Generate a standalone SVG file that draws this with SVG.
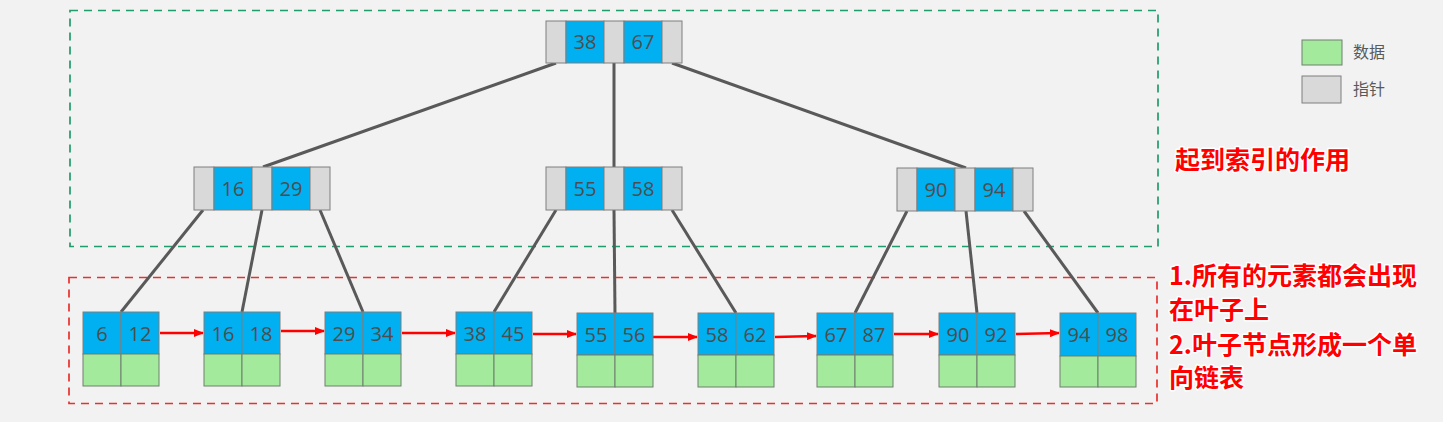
<svg xmlns="http://www.w3.org/2000/svg" width="1443" height="422" viewBox="0 0 1443 422">
<style>
.ptr{fill:#d9d9d9;stroke:#7f7f7f;stroke-width:1}
.key{fill:#00b0f0;stroke:#7f7f7f;stroke-width:1}
.dat{fill:#a4ea9d;stroke:#6f7f6f;stroke-width:1}
.num{font-family:"Open Sans","DejaVu Sans",sans-serif;font-size:20px;fill:#4d4d4d;text-anchor:middle}
.edge{stroke:#595959;stroke-width:3;fill:none}
.link{stroke:#ff0000;stroke-width:2.5;fill:none;marker-end:url(#ah)}
.note{font-family:"Noto Sans CJK SC",sans-serif;font-weight:bold;font-size:25px;fill:#ff0000;stroke:#ffffff;stroke-width:3;paint-order:stroke;stroke-linejoin:round}
.leg{font-family:"Noto Sans CJK SC",sans-serif;font-size:16px;fill:#595959}
</style>
<defs>
<marker id="ah" markerWidth="10" markerHeight="8" refX="9" refY="4" orient="auto" markerUnits="userSpaceOnUse">
<path d="M0,0 L10,4 L0,8 Z" fill="#ff0000"/>
</marker>
</defs>
<rect x="0" y="0" width="1443" height="422" fill="#f2f2f2"/>
<g id="regions">
<rect x="70" y="10.5" width="1088" height="236" fill="none" stroke="#1f9d6c" stroke-width="1.7" stroke-dasharray="8,6"/>
<rect x="69" y="277.5" width="1088" height="126" fill="none" stroke="#e8302c" stroke-width="1.7" stroke-dasharray="8,6"/>
</g>
<g id="connectors">
<line class="edge" x1="556" y1="63" x2="263" y2="167"/>
<line class="edge" x1="614" y1="63" x2="614" y2="167"/>
<line class="edge" x1="672" y1="63" x2="966" y2="168"/>
<line class="edge" x1="203" y1="210" x2="121" y2="312"/>
<line class="edge" x1="262" y1="210" x2="242" y2="312"/>
<line class="edge" x1="320" y1="210" x2="363" y2="312"/>
<line class="edge" x1="556" y1="210" x2="494" y2="312"/>
<line class="edge" x1="614" y1="210" x2="615" y2="313"/>
<line class="edge" x1="672" y1="210" x2="736" y2="313"/>
<line class="edge" x1="907" y1="211" x2="855" y2="313"/>
<line class="edge" x1="966" y1="211" x2="977" y2="313"/>
<line class="edge" x1="1024" y1="211" x2="1098" y2="313"/>
<line class="link" x1="160" y1="333" x2="203" y2="333"/>
<line class="link" x1="281" y1="331" x2="324" y2="331"/>
<line class="link" x1="402" y1="333" x2="455" y2="333"/>
<line class="link" x1="533" y1="334" x2="576" y2="334"/>
<line class="link" x1="653" y1="337" x2="697" y2="337"/>
<line class="link" x1="775" y1="337" x2="816" y2="336"/>
<line class="link" x1="894" y1="334" x2="938" y2="334"/>
<line class="link" x1="1016" y1="334" x2="1059" y2="333"/>
</g>
<g id="root">
<rect class="ptr" x="546" y="21" width="20" height="42"/>
<rect class="key" x="566" y="21" width="38" height="42"/>
<rect class="ptr" x="604" y="21" width="20" height="42"/>
<rect class="key" x="624" y="21" width="38" height="42"/>
<rect class="ptr" x="662" y="21" width="20" height="42"/>
<text class="num" x="585" y="49">38</text>
<text class="num" x="643" y="49">67</text>
</g>
<g id="mid1">
<rect class="ptr" x="194" y="167" width="20" height="43"/>
<rect class="key" x="214" y="167" width="38" height="43"/>
<rect class="ptr" x="252" y="167" width="20" height="43"/>
<rect class="key" x="272" y="167" width="38" height="43"/>
<rect class="ptr" x="310" y="167" width="20" height="43"/>
<text class="num" x="233" y="196">16</text>
<text class="num" x="291" y="196">29</text>
</g>
<g id="mid2">
<rect class="ptr" x="546" y="167" width="20" height="43"/>
<rect class="key" x="566" y="167" width="38" height="43"/>
<rect class="ptr" x="604" y="167" width="20" height="43"/>
<rect class="key" x="624" y="167" width="38" height="43"/>
<rect class="ptr" x="662" y="167" width="20" height="43"/>
<text class="num" x="585" y="196">55</text>
<text class="num" x="643" y="196">58</text>
</g>
<g id="mid3">
<rect class="ptr" x="897" y="168" width="20" height="43"/>
<rect class="key" x="917" y="168" width="38" height="43"/>
<rect class="ptr" x="955" y="168" width="20" height="43"/>
<rect class="key" x="975" y="168" width="38" height="43"/>
<rect class="ptr" x="1013" y="168" width="20" height="43"/>
<text class="num" x="936" y="197">90</text>
<text class="num" x="994" y="197">94</text>
</g>
<g id="leaf1">
<rect class="key" x="83" y="312" width="38" height="42"/><rect class="key" x="121" y="312" width="38" height="42"/>
<rect class="dat" x="83" y="354" width="38" height="32"/><rect class="dat" x="121" y="354" width="38" height="32"/>
<text class="num" x="102" y="341">6</text><text class="num" x="140" y="341">12</text>
</g>
<g id="leaf2">
<rect class="key" x="204" y="312" width="38" height="42"/><rect class="key" x="242" y="312" width="38" height="42"/>
<rect class="dat" x="204" y="354" width="38" height="32"/><rect class="dat" x="242" y="354" width="38" height="32"/>
<text class="num" x="223" y="341">16</text><text class="num" x="261" y="341">18</text>
</g>
<g id="leaf3">
<rect class="key" x="325" y="312" width="38" height="42"/><rect class="key" x="363" y="312" width="38" height="42"/>
<rect class="dat" x="325" y="354" width="38" height="32"/><rect class="dat" x="363" y="354" width="38" height="32"/>
<text class="num" x="344" y="341">29</text><text class="num" x="382" y="341">34</text>
</g>
<g id="leaf4">
<rect class="key" x="456" y="312" width="38" height="42"/><rect class="key" x="494" y="312" width="38" height="42"/>
<rect class="dat" x="456" y="354" width="38" height="32"/><rect class="dat" x="494" y="354" width="38" height="32"/>
<text class="num" x="475" y="341">38</text><text class="num" x="513" y="341">45</text>
</g>
<g id="leaf5">
<rect class="key" x="577" y="313" width="38" height="42"/><rect class="key" x="615" y="313" width="38" height="42"/>
<rect class="dat" x="577" y="355" width="38" height="32"/><rect class="dat" x="615" y="355" width="38" height="32"/>
<text class="num" x="596" y="342">55</text><text class="num" x="634" y="342">56</text>
</g>
<g id="leaf6">
<rect class="key" x="698" y="313" width="38" height="42"/><rect class="key" x="736" y="313" width="38" height="42"/>
<rect class="dat" x="698" y="355" width="38" height="32"/><rect class="dat" x="736" y="355" width="38" height="32"/>
<text class="num" x="717" y="342">58</text><text class="num" x="755" y="342">62</text>
</g>
<g id="leaf7">
<rect class="key" x="817" y="313" width="38" height="42"/><rect class="key" x="855" y="313" width="38" height="42"/>
<rect class="dat" x="817" y="355" width="38" height="32"/><rect class="dat" x="855" y="355" width="38" height="32"/>
<text class="num" x="836" y="342">67</text><text class="num" x="874" y="342">87</text>
</g>
<g id="leaf8">
<rect class="key" x="939" y="313" width="38" height="42"/><rect class="key" x="977" y="313" width="38" height="42"/>
<rect class="dat" x="939" y="355" width="38" height="32"/><rect class="dat" x="977" y="355" width="38" height="32"/>
<text class="num" x="958" y="342">90</text><text class="num" x="996" y="342">92</text>
</g>
<g id="leaf9">
<rect class="key" x="1060" y="313" width="38" height="43"/><rect class="key" x="1098" y="313" width="38" height="43"/>
<rect class="dat" x="1060" y="356" width="38" height="31"/><rect class="dat" x="1098" y="356" width="38" height="31"/>
<text class="num" x="1079" y="342">94</text><text class="num" x="1117" y="342">98</text>
</g>
<g id="legend">
<rect class="dat" x="1302" y="40" width="40" height="25"/>
<rect class="ptr" x="1302" y="76" width="39" height="27"/>
<text class="leg" x="1353" y="58">数据</text>
<text class="leg" x="1353" y="95">指针</text>
</g>
<g id="notes">
<text class="note" x="1175" y="169">起到索引的作用</text>
<text class="note" x="1169" y="285">1.所有的元素都会出现</text>
<text class="note" x="1169" y="319">在叶子上</text>
<text class="note" x="1169" y="354">2.叶子节点形成一个单</text>
<text class="note" x="1169" y="387">向链表</text>
</g>
</svg>
